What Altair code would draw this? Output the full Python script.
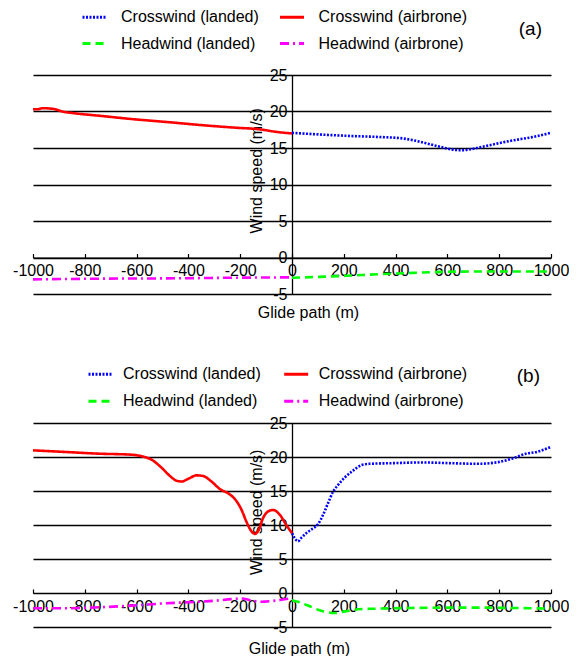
import altair as alt
import pandas as pd

SERIES = ["Crosswind (landed)", "Crosswind (airbrone)", "Headwind (landed)", "Headwind (airbrone)"]
COLORS = ["#0000FF", "#FF0000", "#00FF00", "#FF00FF"]
DASHES = [[2, 1.5], [1, 0], [8, 5], [9, 4, 2, 4]]
XTICKS = [-1000, -800, -600, -400, -200, 0, 200, 400, 600, 800, 1000]
YTICKS = [-5, 0, 5, 10, 15, 20, 25]

# ---- panel (a) ----
a_cl_x = [0, 82, 211, 340, 418, 469, 534, 585, 624, 656, 695, 740, 791, 856, 920, 1000]
a_cl_y = [17.08, 16.9, 16.67, 16.5, 16.35, 16.06, 15.5, 15.05, 14.77, 14.7, 14.86, 15.2, 15.6, 16.06, 16.44, 17.08]
a_ca_x = [-1000, -983, -964, -932, -913, -887, -842, -739, -611, -483, -354, -226, -123, -59, 0]
a_ca_y = [20.3, 20.3, 20.45, 20.4, 20.3, 20.0, 19.77, 19.4, 18.94, 18.56, 18.15, 17.8, 17.55, 17.2, 17.0]
a_hl_x = [0, 82, 211, 340, 469, 598, 727, 856, 1000]
a_hl_y = [-2.77, -2.68, -2.5, -2.28, -2.1, -1.96, -1.92, -1.92, -1.92]
a_ha_x = [-1000, -739, -483, -226, 0]
a_ha_y = [-3.0, -2.9, -2.86, -2.77, -2.72]

# ---- panel (b) ----
b_cl_x = [0, 10, 23, 36, 55, 81, 100, 120, 139, 158, 178, 204, 236, 268, 300, 397, 500, 603, 719, 796, 848, 900, 951, 1000]
b_cl_y = [8.8, 8.1, 7.6, 8.1, 8.8, 9.5, 10.1, 11.5, 13.2, 14.85, 15.9, 17.0, 18.0, 18.8, 19.0, 19.1, 19.2, 19.1, 19.0, 19.25, 19.75, 20.45, 20.8, 21.5]
b_ca_x = [-1000, -875, -747, -619, -580, -542, -503, -471, -445, -426, -400, -368, -343, -311, -279, -240, -214, -195, -176, -157, -144, -128, -112, -92, -73, -47, -22, 0]
b_ca_y = [20.98, 20.74, 20.49, 20.34, 20.1, 19.6, 18.4, 17.2, 16.5, 16.4, 16.8, 17.3, 17.2, 16.4, 15.3, 14.5, 13.5, 12.25, 10.5, 9.1, 8.7, 9.3, 11.0, 12.0, 12.2, 11.5, 10.0, 8.8]
b_hl_x = [0, 23, 62, 100, 139, 165, 204, 255, 332, 461, 590, 719, 848, 1000]
b_hl_y = [-1.05, -1.3, -1.85, -2.45, -2.85, -2.95, -2.7, -2.4, -2.3, -2.2, -2.15, -2.15, -2.2, -2.3]
b_ha_x = [-1000, -875, -747, -619, -490, -362, -298, -234, -195, -157, -118, -80, -41, 0]
b_ha_y = [-2.24, -2.24, -2.1, -1.86, -1.52, -1.29, -1.14, -0.9, -0.8, -1.1, -1.29, -1.19, -1.0, -0.75]

FONT = "Liberation Sans"
W = 518


def frame(parts):
    rows = []
    for name, xs, ys in parts:
        for i, (x, y) in enumerate(zip(xs, ys)):
            rows.append({"series": name, "x": x, "y": y, "i": i})
    return pd.DataFrame(rows)


def legend(legx, legy, loff, colpad, rowpad):
    return alt.Legend(orient="none", legendX=legx, legendY=legy, columns=2, direction="horizontal",
                      gridAlign="each", symbolType="stroke", symbolSize=576, symbolStrokeWidth=3,
                      labelFontSize=16, labelFont=FONT, labelColor="black",
                      labelOffset=loff, columnPadding=colpad, rowPadding=rowpad,
                      padding=0, labelLimit=0, title=None)


def panel(df, H, tag, legx, legy, loff, colpad, rowpad, tdx, tdy, xtitle_x):
    xscale = alt.Scale(domain=[-1000, 1000], nice=False, zero=False)
    yscale = alt.Scale(domain=[-5, 25], nice=False, zero=False)
    leg = legend(legx, legy, loff, colpad, rowpad)
    lines = alt.Chart(df).mark_line(strokeWidth=2.6, interpolate="monotone").encode(
        x=alt.X("x:Q", scale=xscale,
                axis=alt.Axis(values=XTICKS, orient="bottom", offset=-H / 6, ticks=False, tickSize=0,
                              labelPadding=13, labelBaseline="middle", labelExpr="datum.value + ''",
                              labelFlush=False, labelOverlap=False,
                              grid=False, domainColor="black", domainWidth=1.2,
                              labelFont=FONT, labelFontSize=16, labelColor="black",
                              title="Glide path (m)", titleX=xtitle_x, titleY=55,
                              titleFont=FONT, titleFontSize=16, titleFontWeight="normal", titleColor="black",
                              titleBaseline="middle", titleAlign="center")),
        y=alt.Y("y:Q", scale=yscale,
                axis=alt.Axis(values=YTICKS, orient="left", offset=-W / 2, ticks=False, tickSize=0,
                              labelPadding=5, labelExpr="datum.value + ''", labelOverlap=False,
                              labelFont=FONT, labelFontSize=16, labelColor="black",
                              grid=True, gridColor="black", gridWidth=1.3,
                              gridOpacity=1, domainColor="black", domainWidth=1.3,
                              title="Wind speed (m/s)", titleX=-36, titleY=0.435 * H,
                              titleFont=FONT, titleFontSize=16, titleFontWeight="normal", titleColor="black",
                              titleAngle=270, titleBaseline="middle", titleAlign="center")),
        color=alt.Color("series:N", sort=SERIES,
                        scale=alt.Scale(domain=SERIES, range=COLORS), legend=leg),
        strokeDash=alt.StrokeDash("series:N", sort=SERIES,
                                  scale=alt.Scale(domain=SERIES, range=DASHES), legend=leg),
        order="i:Q",
    )
    ticks = alt.Chart(pd.DataFrame({"t": XTICKS})).mark_rule(opacity=0).encode(
        x=alt.X("t:Q", scale=xscale,
                axis=alt.Axis(values=XTICKS, orient="top", offset=-H * 5 / 6, labels=False,
                              domain=False, grid=False, ticks=True, tickSize=4,
                              tickColor="black", tickWidth=1.2, title=None)),
    )
    return alt.layer(lines, ticks).resolve_axis(x="independent").properties(
        width=W, height=H,
        title=alt.TitleParams(tag, anchor="end", orient="top", frame="group", fontSize=19,
                              font=FONT, fontWeight="normal", color="black", offset=0,
                              baseline="middle", dx=tdx, dy=tdy),
    )


dfa = frame([(SERIES[0], a_cl_x, a_cl_y), (SERIES[1], a_ca_x, a_ca_y),
             (SERIES[2], a_hl_x, a_hl_y), (SERIES[3], a_ha_x, a_ha_y)])
dfb = frame([(SERIES[0], b_cl_x, b_cl_y), (SERIES[1], b_ca_x, b_ca_y),
             (SERIES[2], b_hl_x, b_hl_y), (SERIES[3], b_ha_x, b_ha_y)])

pa = panel(dfa, 219, "(a)", 48, -71.5, 13, 14.5, 4.5, -9, 44.5, 275)
pb = panel(dfb, 204, "(b)", 54, -62.5, 9, 16.7, 5.2, -11, 34.1, 266)

chart = alt.vconcat(pa, pb, spacing=39).resolve_scale(
    color="independent", strokeDash="independent"
).properties(
    padding={"left": 4, "top": -5, "right": 0, "bottom": 0}
).configure_view(stroke=None)

chart.save("out.html", embed_options={"renderer": "svg", "actions": False})
